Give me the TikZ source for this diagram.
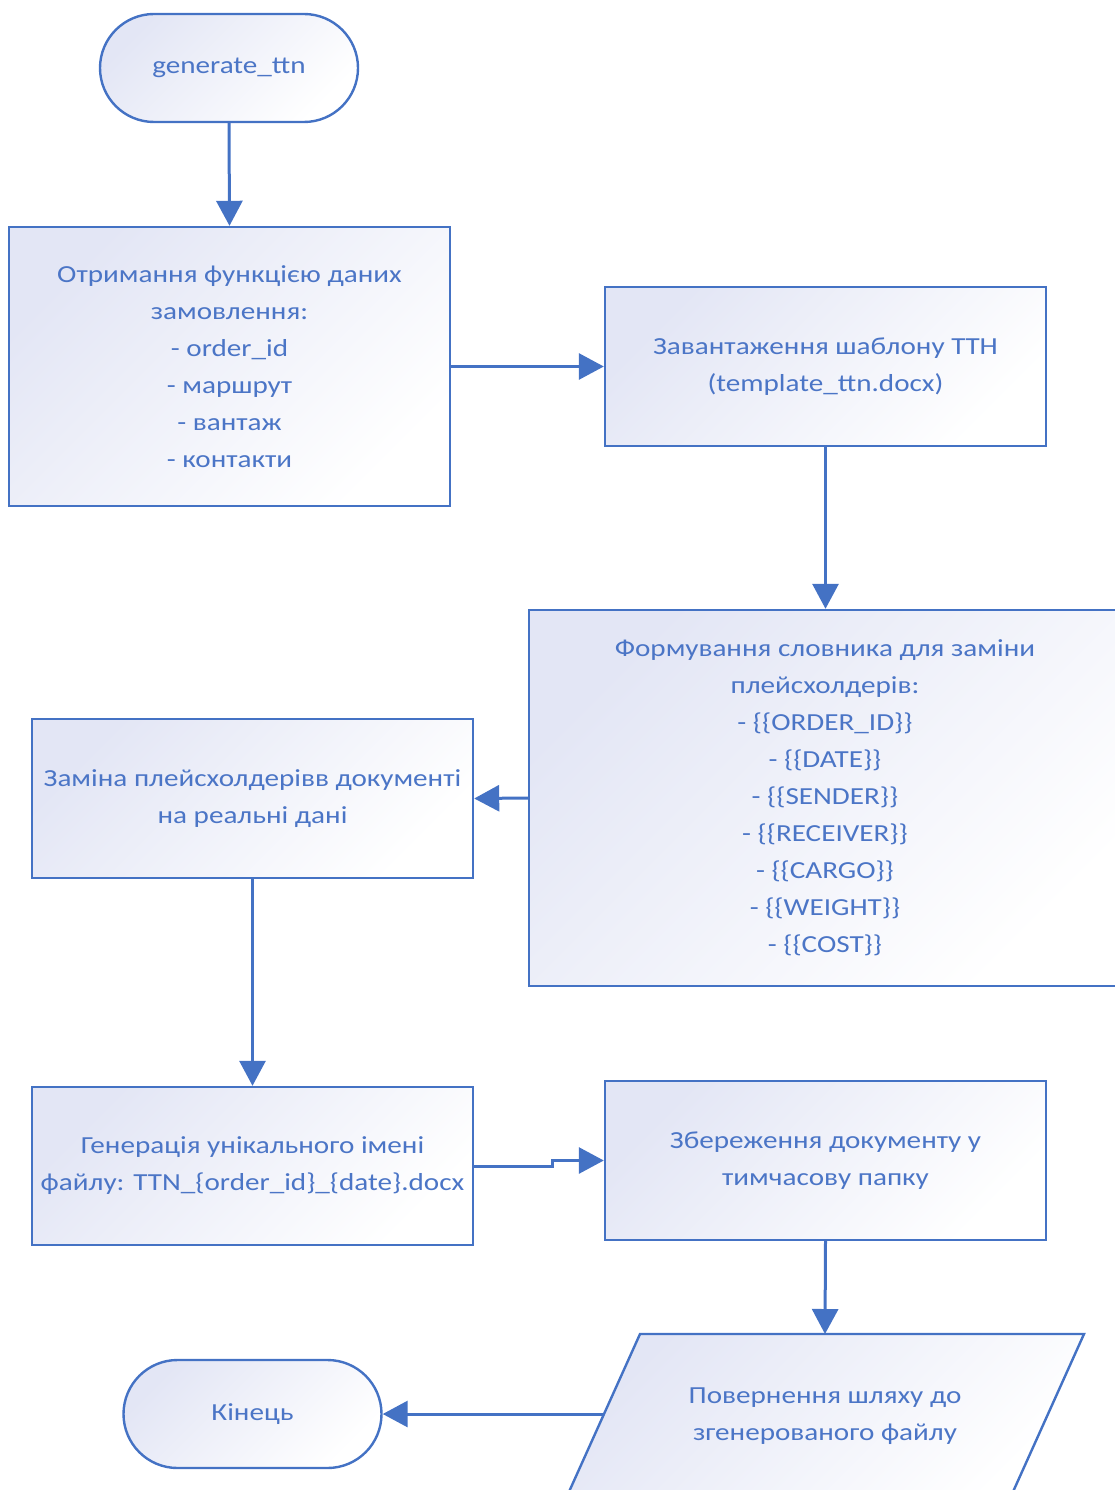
\documentclass[tikz,border=0pt]{standalone}
\usepackage{fontspec}
\setmainfont{Carlito}[FakeStretch=1.19]
\usetikzlibrary{arrows.meta,calc}
\definecolor{lineblue}{HTML}{4472C4}
\definecolor{textblue}{HTML}{4B75C6}
\definecolor{lav}{HTML}{E3E6F5}
\begin{document}
\begin{tikzpicture}[x=1pt,y=-1pt,
  txt/.style={text=textblue,font=\fontsize{24.5}{37}\selectfont,align=center},
  boxfill/.style={shading=axis,top color=lav,bottom color=white,shading angle=45},
  procbox/.style={txt,draw=lineblue,line width=2.4pt,boxfill,minimum width=441pt,inner sep=0pt},
  termbox/.style={txt,draw=lineblue,line width=2.4pt,boxfill,minimum width=258pt,minimum height=108pt,rounded corners=54pt,inner sep=0pt},
  conn/.style={draw=lineblue,line width=3pt,-{Triangle[length=25pt,width=26pt]}}]
\useasboundingbox (0,0) rectangle (1115,1490);

\node[termbox] (start) at (229,68) {generate\_ttn};
\node[procbox,minimum height=279pt] (getdata) at (229.5,366.5)
  {Отримання функцією даних\\замовлення:\\- order\_id\\- маршрут\\- вантаж\\- контакти};
\node[procbox,minimum height=159pt] (load) at (825.5,366.5)
  {Завантаження шаблону ТТН\\(template\_ttn.docx)};
\node[procbox,minimum width=592pt,minimum height=376pt] (dict) at (825,798)
  {Формування словника для заміни\\плейсхолдерів:\\- \{\{ORDER\_ID\}\}\\- \{\{DATE\}\}\\- \{\{SENDER\}\}\\- \{\{RECEIVER\}\}\\- \{\{CARGO\}\}\\- \{\{WEIGHT\}\}\\- \{\{COST\}\}};
\node[procbox,minimum height=159pt] (replace) at (252.5,798.5)
  {Заміна плейсхолдерівв документі\\на реальні дані};
\node[procbox,minimum height=158pt] (fname) at (252.5,1166)
  {Генерація унікального імені\\файлу: TTN\_\{order\_id\}\_\{date\}.docx};
\node[procbox,minimum height=159pt] (save) at (825.5,1160.5)
  {Збереження документу у\\тимчасову папку};

% output parallelogram
\draw[draw=lineblue,line width=2.4pt,boxfill]
  (640,1334) -- (1084,1334) -- (1012,1494) -- (568,1494) -- cycle;
\node[txt] (ret) at (825,1416) {Повернення шляху до\\згенерованого файлу};
\coordinate (retw) at (604,1414);
\coordinate (rettop) at (825,1334);

\node[termbox] (finish) at (252.5,1414) {Кінець};

\draw[conn] (start.south) -- (getdata.north);
\draw[conn] (getdata.east) -- (load.west);
\draw[conn] (load.south) -- (load.south |- dict.north);
\draw[conn] (dict.west) -- (replace.east);
\draw[conn] (replace.south) -- (fname.north);
\draw[conn] (fname.east) -- ++(78,0) |- (save.west);
\draw[conn] (save.south) -- (rettop);
\draw[conn] (retw) -- (finish.east);
\end{tikzpicture}
\end{document}
